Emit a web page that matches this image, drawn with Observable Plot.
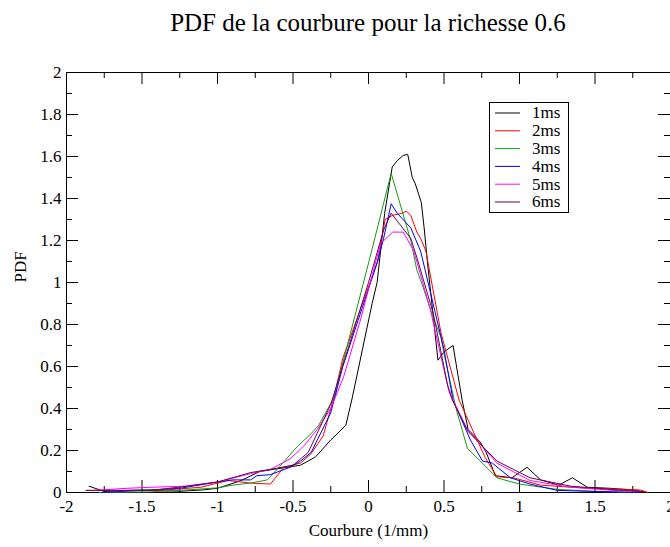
<!DOCTYPE html>
<html>
<head>
<meta charset="utf-8">
<script src="https://cdn.jsdelivr.net/npm/d3@7"></script>
<script src="https://cdn.jsdelivr.net/npm/@observablehq/plot@0.6"></script>
<style>
  html, body { margin: 0; padding: 0; background: #fff; overflow: hidden; }
  #wrap { position: relative; width: 670px; height: 547px; font-family: "Liberation Serif", "Times New Roman", serif; }
  #title { box-sizing: border-box; height: 50px; padding-top: 10px; line-height: 25px; font-size: 25px; padding-left: 68px; width: 668px; text-align: center; color: #000; white-space: nowrap; }
  #legend { position: absolute; left: 489px; top: 102px; background: #fff; }
</style>
</head>
<body>
<div id="wrap">
  <div id="title">PDF de la courbure pour la richesse 0.6</div>
  <div id="chart"></div>
  <div id="legend"></div>
</div>
<script>
// ---- data ----
const seriesNames = ["1ms", "2ms", "3ms", "4ms", "5ms", "6ms"];
const seriesColors = ["#000000", "#ff0000", "#179a17", "#0000ff", "#ff00ff", "#670748"];

const s1ms = [[-1.85,0.03],[-1.75,0.005],[-1.6,0.01],[-1.5,0.012],[-1.35,0.008],[-1.25,0.006],[-1.1,0.012],[-1.0,0.02],[-0.85,0.055],[-0.72,0.1],[-0.63,0.11],[-0.45,0.13],[-0.35,0.17],[-0.25,0.25],[-0.15,0.32],[-0.108,0.45],[0.024,0.9],[0.057,1.0],[0.08,1.15],[0.107,1.33],[0.157,1.55],[0.19,1.58],[0.23,1.605],[0.26,1.61],[0.29,1.5],[0.31,1.47],[0.35,1.38],[0.37,1.25],[0.39,1.1],[0.43,0.83],[0.46,0.63],[0.5,0.67],[0.56,0.7],[0.62,0.44],[0.66,0.3],[0.74,0.24],[0.78,0.19],[0.84,0.08],[0.95,0.07],[1.05,0.12],[1.14,0.06],[1.26,0.035],[1.35,0.07],[1.45,0.025],[1.6,0.02],[1.75,0.012],[1.85,0.0]];
const s2ms = [[-1.87,0.01],[-1.6,0.01],[-1.38,0.01],[-1.11,0.025],[-0.93,0.057],[-0.78,0.045],[-0.65,0.04],[-0.56,0.12],[-0.45,0.14],[-0.38,0.185],[-0.3,0.27],[-0.23,0.45],[-0.17,0.64],[0.06,1.1],[0.11,1.3],[0.16,1.32],[0.225,1.33],[0.25,1.34],[0.28,1.32],[0.32,1.24],[0.345,1.21],[0.38,1.15],[0.48,0.76],[0.6,0.44],[0.77,0.17],[0.85,0.075],[0.96,0.07],[1.14,0.035],[1.35,0.025],[1.5,0.02],[1.7,0.015],[1.8,0.012],[1.85,0.0]];
const s3ms = [[-1.78,0.0],[-1.45,0.003],[-1.25,0.01],[-1.0,0.022],[-0.9,0.035],[-0.78,0.045],[-0.67,0.06],[-0.58,0.13],[-0.47,0.22],[-0.38,0.28],[-0.33,0.32],[-0.23,0.45],[0.01,1.12],[0.15,1.52],[0.28,1.2],[0.32,1.06],[0.36,0.98],[0.43,0.83],[0.48,0.74],[0.5,0.66],[0.58,0.4],[0.655,0.21],[0.74,0.15],[0.85,0.07],[1.0,0.04],[1.25,0.015],[1.5,0.005],[1.8,0.0]];
const s4ms = [[-1.77,0.0],[-1.5,0.01],[-1.25,0.02],[-1.0,0.05],[-0.9,0.06],[-0.78,0.06],[-0.74,0.08],[-0.65,0.085],[-0.52,0.12],[-0.45,0.15],[-0.38,0.19],[-0.25,0.38],[-0.17,0.6],[0.06,1.1],[0.1,1.21],[0.15,1.375],[0.19,1.33],[0.28,1.26],[0.345,1.15],[0.5,0.68],[0.56,0.44],[0.675,0.25],[0.755,0.15],[0.82,0.14],[0.94,0.07],[1.07,0.04],[1.25,0.01],[1.5,0.005],[1.8,0.0]];
const s5ms = [[-1.82,0.01],[-1.6,0.02],[-1.44,0.025],[-1.22,0.03],[-1.0,0.05],[-0.78,0.09],[-0.65,0.11],[-0.52,0.16],[-0.43,0.22],[-0.34,0.3],[-0.25,0.4],[-0.165,0.55],[-0.05,0.83],[0.03,1.05],[0.08,1.185],[0.16,1.24],[0.23,1.24],[0.3,1.15],[0.41,0.87],[0.52,0.52],[0.56,0.44],[0.655,0.3],[0.85,0.14],[1.07,0.057],[1.34,0.025],[1.62,0.01],[1.8,0.005]];
const s6ms = [[-1.87,0.01],[-1.6,0.01],[-1.44,0.01],[-1.2,0.03],[-1.0,0.05],[-0.78,0.095],[-0.65,0.11],[-0.5,0.13],[-0.4,0.19],[-0.25,0.42],[0.0,1.0],[0.1,1.25],[0.15,1.33],[0.28,1.21],[0.32,1.12],[0.43,0.85],[0.53,0.49],[0.555,0.44],[0.66,0.29],[0.85,0.15],[1.07,0.07],[1.34,0.03],[1.6,0.015],[1.8,0.005]];
const allSeries = [s1ms, s2ms, s3ms, s4ms, s5ms, s6ms];

const xTicks = [-2, -1.5, -1, -0.5, 0, 0.5, 1, 1.5, 2];
const xMinor = [-1.75, -1.25, -0.75, -0.25, 0.25, 0.75, 1.25, 1.75];
const yTicks = [0, 0.2, 0.4, 0.6, 0.8, 1, 1.2, 1.4, 1.6, 1.8, 2];
const yMinor = [0.1, 0.3, 0.5, 0.7, 0.9, 1.1, 1.3, 1.5, 1.7, 1.9];
const xLabel = "Courbure (1/mm)";
const yLabel = "PDF";

// ---- layout ----
const W = 670, H = 497;
const mL = 66, mR = 0, mT = 22, mB = 55;
const fw = W - mL - mR, fh = H - mT - mB;
const major = 12, minor = 6;
const FONT = "Liberation Serif, Times New Roman, serif";

const marks = [
  Plot.frame({stroke: "#000", strokeWidth: 1}),
  // inward ticks on all four sides
  Plot.tickX(xTicks, {x: d => d, insetTop: fh - major, stroke: "#000"}),
  Plot.tickX(xTicks, {x: d => d, insetBottom: fh - major, stroke: "#000"}),
  Plot.tickX(xMinor, {x: d => d, insetTop: fh - minor, stroke: "#000"}),
  Plot.tickX(xMinor, {x: d => d, insetBottom: fh - minor, stroke: "#000"}),
  Plot.tickY(yTicks, {y: d => d, insetRight: fw - major, stroke: "#000"}),
  Plot.tickY(yTicks, {y: d => d, insetLeft: fw - major, stroke: "#000"}),
  Plot.tickY(yMinor, {y: d => d, insetRight: fw - minor, stroke: "#000"}),
  Plot.tickY(yMinor, {y: d => d, insetLeft: fw - minor, stroke: "#000"}),
  Plot.axisX(xTicks, {tickSize: 0, tickPadding: 7, tickFormat: d => String(d), fontSize: 17, label: null}),
  Plot.axisY(yTicks, {tickSize: 0, tickPadding: 5, tickFormat: d => String(d), fontSize: 17, label: null}),
  Plot.text([xLabel], {frameAnchor: "bottom", dy: 38, text: d => d, fontSize: 17, lineAnchor: "middle"}),
  Plot.text([yLabel], {frameAnchor: "left", dx: -46, rotate: -90, text: d => d, fontSize: 17, lineAnchor: "middle"}),
  ...allSeries.map((s, i) => Plot.line(s, {x: d => d[0], y: d => d[1], stroke: seriesColors[i], strokeWidth: 1}))
];

const chart = Plot.plot({
  width: W, height: H,
  marginLeft: mL, marginRight: mR, marginTop: mT, marginBottom: mB,
  style: {fontFamily: FONT, fontSize: "17px", color: "#000", background: "transparent", overflow: "visible"},
  x: {domain: [-2, 2], axis: null},
  y: {domain: [0, 2], axis: null},
  marks
});
chart.style.overflow = "hidden";
document.getElementById("chart").appendChild(chart);

// ---- legend ----
const lw = 80, lh = 111;
const lg = d3.select("#legend").append("svg").attr("width", lw).attr("height", lh)
  .style("font-family", FONT).style("font-size", "17px");
lg.append("rect").attr("x", 0.5).attr("y", 0.5).attr("width", lw - 1).attr("height", lh - 1)
  .attr("fill", "#fff").attr("stroke", "#000");
seriesNames.forEach((n, i) => {
  const y = 11 + i * 17.8;
  lg.append("line").attr("x1", 6).attr("x2", 31).attr("y1", y).attr("y2", y)
    .attr("stroke", seriesColors[i]).attr("stroke-width", 1);
  lg.append("text").attr("x", 43).attr("y", y).attr("dy", "0.32em").attr("fill", "#000").text(n);
});
</script>
</body>
</html>
